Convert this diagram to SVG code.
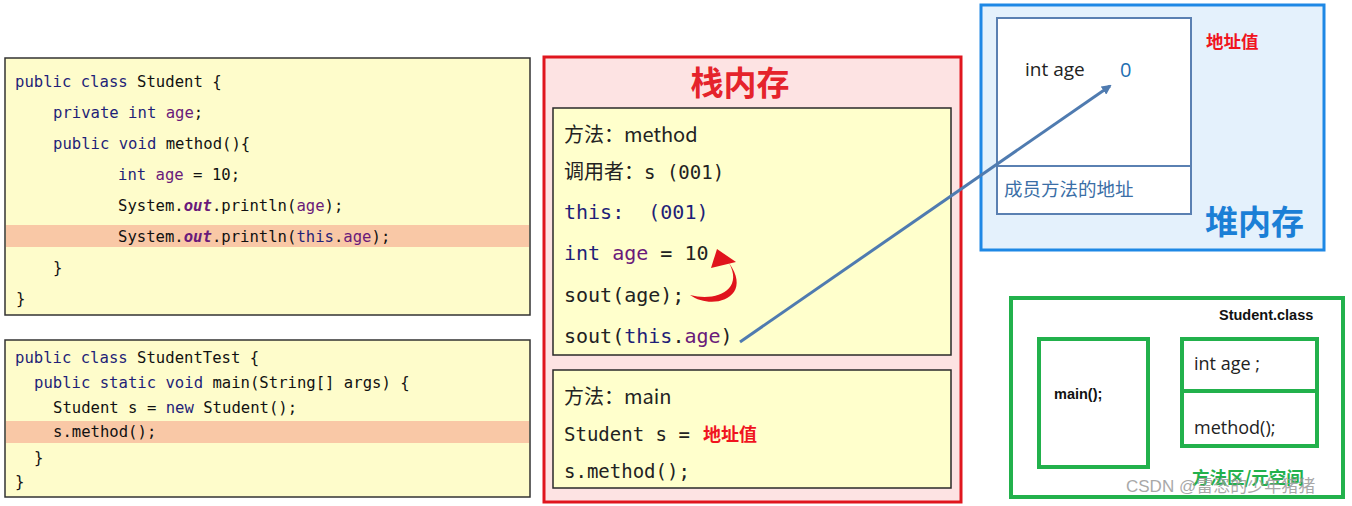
<svg xmlns="http://www.w3.org/2000/svg" width="1352" height="506" viewBox="0 0 1352 506">
<defs>
<style>
.code{font-family:"DejaVu Sans Mono","Liberation Mono",monospace;font-size:15.6px;fill:#111;white-space:pre}
.kw{fill:#1f1f78}
.fld{fill:#6a1a7a}
.out{fill:#6a1a7a;font-weight:bold;font-style:italic}
.st{font-family:"DejaVu Sans Mono","Liberation Mono",monospace;font-size:20px;fill:#222;white-space:pre}
.cn{font-family:"Noto Sans CJK SC","Noto Sans",sans-serif;font-size:20px;fill:#222;white-space:pre}
.sans{font-family:"Open Sans","Noto Sans",sans-serif;fill:#222}
.cjk{font-family:"Noto Sans CJK SC",sans-serif}
.gbox{fill:none;stroke:#22b14c;stroke-width:4}
</style>
<marker id="blueHead" markerWidth="10" markerHeight="10" refX="8" refY="5" orient="auto" markerUnits="userSpaceOnUse" viewBox="0 0 10 10">
<path d="M0,0 L10,5 L0,10 z" fill="#4f7bb0"/>
</marker>
</defs>
<rect width="1352" height="506" fill="#ffffff"/>

<g id="code-student">
<rect x="5" y="58" width="525" height="257" fill="#fefccb" stroke="#333" stroke-width="1.5"/>
<rect x="6" y="225" width="523" height="22" fill="#f9c8a6"/>
<text class="code" x="15" y="87"><tspan class="kw">public</tspan> <tspan class="kw">class</tspan> Student {</text>
<text class="code" x="53" y="118"><tspan class="kw">private</tspan> <tspan class="kw">int</tspan> <tspan class="fld">age</tspan>;</text>
<text class="code" x="53" y="149"><tspan class="kw">public</tspan> <tspan class="kw">void</tspan> method(){</text>
<text class="code" x="118" y="180"><tspan class="kw">int</tspan> <tspan class="fld">age</tspan> = 10;</text>
<text class="code" x="118" y="211">System.<tspan class="out">out</tspan>.println(<tspan class="fld">age</tspan>);</text>
<text class="code" x="118" y="242">System.<tspan class="out">out</tspan>.println(<tspan class="kw">this</tspan>.<tspan class="fld">age</tspan>);</text>
<text class="code" x="53" y="273">}</text>
<text class="code" x="16" y="304">}</text>
</g>

<g id="code-studenttest">
<rect x="5" y="340" width="525" height="157" fill="#fefccb" stroke="#333" stroke-width="1.5"/>
<rect x="6" y="421" width="523" height="22" fill="#f9c8a6"/>
<text class="code" x="15" y="363"><tspan class="kw">public</tspan> <tspan class="kw">class</tspan> StudentTest {</text>
<text class="code" x="34" y="388"><tspan class="kw">public</tspan> <tspan class="kw">static</tspan> <tspan class="kw">void</tspan> main(String[] args) {</text>
<text class="code" x="53" y="413">Student s = <tspan class="kw">new</tspan> Student();</text>
<text class="code" x="53" y="437">s.method();</text>
<text class="code" x="34" y="463">}</text>
<text class="code" x="15" y="487">}</text>
</g>

<g id="stack">
<rect x="544" y="57" width="417" height="445" fill="#fde3e3" stroke="#e0161e" stroke-width="3"/>
<text x="740" y="95" text-anchor="middle" class="cjk" font-size="33" font-weight="bold" fill="#e5232b">栈内存</text>
</g>

<g id="frame-method">
<rect x="553" y="108" width="398" height="247" fill="#ffffcc" stroke="#2a2a2a" stroke-width="1.5"/>
<text class="cn" x="564" y="142">方法：method</text>
<text class="cn" x="564" y="179">调用者：<tspan style="font-family:'DejaVu Sans Mono','Liberation Mono',monospace;font-size:19px">s (001)</tspan></text>
<text class="st" x="564" y="219" style="fill:#1f1f78">this:  (001)</text>
<text class="st" x="564" y="260"><tspan class="kw">int</tspan> <tspan class="fld">age</tspan> = 10</text>
<text class="st" x="564" y="302">sout(age);</text>
<text class="st" x="564" y="343">sout(<tspan class="kw">this</tspan>.<tspan class="fld">age</tspan>)</text>
</g>

<g id="frame-main">
<rect x="553" y="370" width="398" height="118" fill="#ffffcc" stroke="#2a2a2a" stroke-width="1.5"/>
<text class="cn" x="564" y="404">方法：main</text>
<text class="st" x="564" y="441" style="font-size:19px">Student s = </text>
<text x="703" y="441" class="cjk" font-size="18" font-weight="bold" fill="#f0141e">地址值</text>
<text class="st" x="564" y="478" style="font-size:19px">s.method();</text>
</g>

<g id="heap">
<rect x="981" y="5" width="343" height="245" fill="#e4f1fc" stroke="#1e88e5" stroke-width="3"/>
<text x="1206" y="48" class="cjk" font-size="17.5" font-weight="bold" fill="#f0141e">地址值</text>
<text x="1205" y="234" class="cjk" font-size="33" font-weight="bold" fill="#1b7fd6">堆内存</text>
</g>

<g id="object">
<rect x="997" y="18" width="194" height="196" fill="#ffffff" stroke="#5a80b2" stroke-width="2"/>
<line x1="997" y1="166" x2="1191" y2="166" stroke="#5a80b2" stroke-width="2"/>
<text class="sans" x="1025" y="76" font-size="19">int age</text>
<text class="sans" x="1120" y="77" font-size="20" style="fill:#1f6fb2">0</text>
<text x="1004" y="196" class="cjk" font-size="18.5" fill="#3a6ea6">成员方法的地址</text>
</g>

<g id="method-area">
<rect x="1011" y="298" width="332" height="199" fill="#ffffff" stroke="#22b14c" stroke-width="4"/>
<text x="1219" y="320" font-family="Liberation Sans, Arial, sans-serif" font-size="14.5" font-weight="bold" fill="#111">Student.class</text>
<text x="1192" y="484" class="cjk" font-size="17.5" font-weight="bold" fill="#22b14c">方法区/元空间</text>
</g>

<g id="main-box">
<rect x="1039" y="339" width="109" height="128" class="gbox"/>
<text x="1054" y="399" font-family="Liberation Sans, Arial, sans-serif" font-size="14.5" font-weight="bold" fill="#111">main();</text>
</g>

<g id="field-box">
<rect x="1182" y="339" width="135" height="52" class="gbox"/>
<text class="sans" x="1194" y="370" font-size="18">int age ;</text>
</g>

<g id="method-box">
<rect x="1182" y="391" width="135" height="55" class="gbox"/>
<text class="sans" x="1194" y="434" font-size="18">method();</text>
</g>

<g id="connectors">
<path d="M690,295 C712,311 754,298 729,263 C744,290 716,302 690,295 Z" fill="#e0141c"/>
<polygon points="717,249 711,268 736,262" fill="#e0141c"/>
<line x1="740" y1="342" x2="1110" y2="86" stroke="#4f7bb0" stroke-width="3" marker-end="url(#blueHead)"/>
</g>

<text x="1126" y="492" font-family="Liberation Sans, 'Noto Sans CJK SC', sans-serif" font-size="17" fill="#9a9a9a" opacity="0.85">CSDN @雷恣的少年猪猪</text>
</svg>
